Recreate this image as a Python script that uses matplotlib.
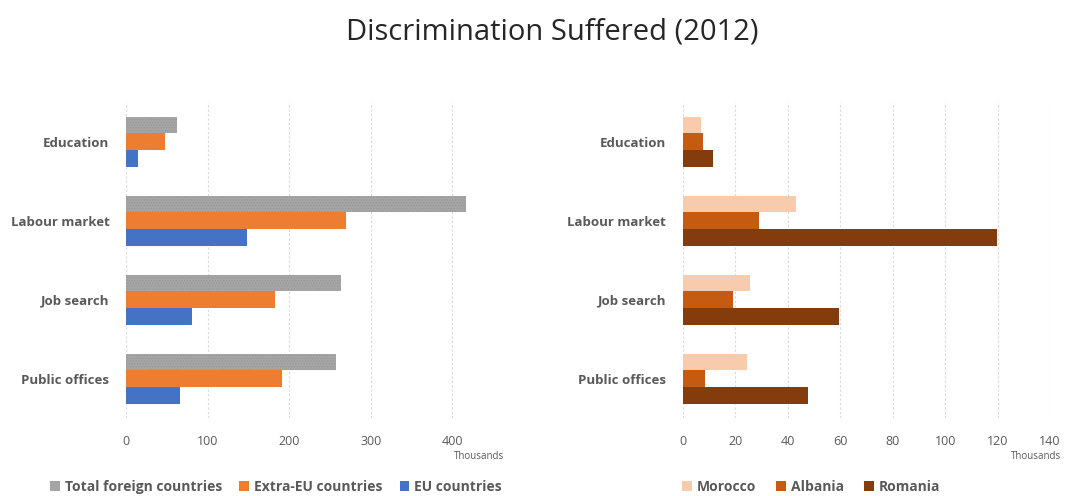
import matplotlib.pyplot as plt
from matplotlib.patches import Patch

plt.rcParams['font.family'] = ['Open Sans', 'DejaVu Sans']
plt.rcParams['hatch.linewidth'] = 0.5

categories = ["Education", "Labour market", "Job search", "Public offices"]

# thousands of people, by area of origin
total_foreign = [63, 416, 263, 257]
extra_eu = [48, 269, 182, 191]
eu = [15, 148, 81, 66]

# thousands of people, by country of origin
morocco = [7.1, 43.1, 25.8, 24.6]
albania = [7.7, 29.0, 19.2, 8.6]
romania = [11.4, 119.7, 59.6, 47.6]

left_series = [
    ("Total foreign countries", total_foreign, "#a5a5a5"),
    ("Extra-EU countries", extra_eu, "#ed7d31"),
    ("EU countries", eu, "#4472c4"),
]
right_series = [
    ("Morocco", morocco, "#f8cbad"),
    ("Albania", albania, "#c55a11"),
    ("Romania", romania, "#843c0c"),
]

TEXT = "#595959"
BAR_H = 0.21


def draw_panel(ax, series, xmax, xticks, hatch_first=False):
    for i, (label, values, color) in enumerate(series):
        ys = [c + (i - 1) * BAR_H for c in range(len(categories))]
        kw = {}
        if hatch_first and i == 0:
            kw = dict(hatch="......", edgecolor="#979797", linewidth=0)
        ax.barh(ys, values, height=BAR_H, color=color, label=label, zorder=2, **kw)

    ax.set_xlim(0, xmax)
    ax.set_ylim(len(categories) - 0.5, -0.5)
    ax.set_yticks(range(len(categories)))
    ax.set_yticklabels(categories, fontsize=9.5, fontweight="bold", color=TEXT)
    ax.set_xticks(xticks)
    ax.tick_params(axis="x", length=0, labelsize=9, labelcolor=TEXT, pad=12)
    ax.tick_params(axis="y", length=0, pad=12)
    ax.grid(axis="x", color="#d9d9d9", linestyle=(0, (2, 2)), linewidth=0.8, zorder=0)
    for sp in ax.spines.values():
        sp.set_visible(False)
    ax.text(1.03, -0.105, "Thousands", transform=ax.transAxes, fontsize=7,
            color=TEXT, ha="right", va="top")


fig = plt.figure(figsize=(10.77, 4.96), dpi=100)
fig.suptitle("Discrimination Suffered (2012)", fontsize=21, color="#262626",
             x=0.513, y=0.965)

ax_left = fig.add_axes([0.117, 0.157, 0.341, 0.637])
ax_right = fig.add_axes([0.634, 0.157, 0.341, 0.637])

draw_panel(ax_left, left_series, 450, [0, 100, 200, 300, 400], hatch_first=True)
draw_panel(ax_right, right_series, 140, list(range(0, 141, 20)))

for ax, series, x0, gap in [(ax_left, left_series, 0.035, 1.25), (ax_right, right_series, 0.622, 1.45)]:
    handles = [Patch(facecolor=c, label=l) for l, _, c in series]
    fig.legend(handles=handles, loc="center left", bbox_to_anchor=(x0, 0.018),
               ncol=3, frameon=False, labelcolor=TEXT,
               prop={"size": 10, "weight": "bold"},
               handlelength=0.7, handleheight=0.7, handletextpad=0.35,
               columnspacing=gap)

fig.savefig("out.png", dpi=100)
